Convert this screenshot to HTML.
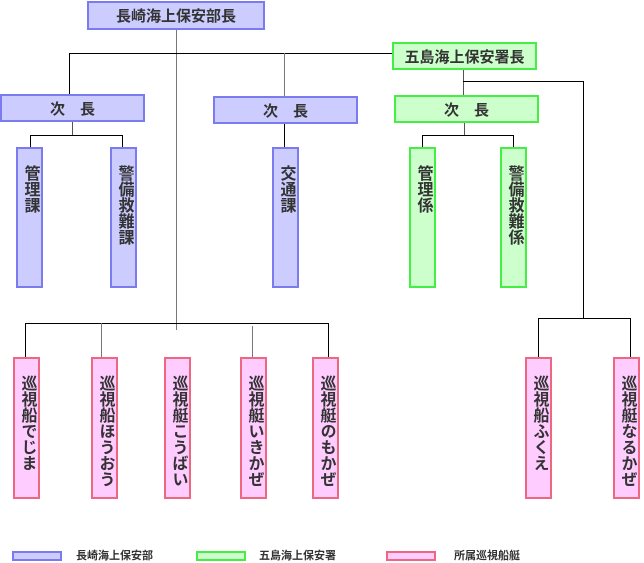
<!DOCTYPE html>
<html><head><meta charset="utf-8"><style>
body{margin:0;background:#fff;width:644px;height:562px;position:relative;overflow:hidden;font-family:"Liberation Sans","Noto Sans CJK JP",sans-serif;font-weight:bold;color:#333}
.b{position:absolute;box-sizing:border-box;display:flex;align-items:center;justify-content:center;font-size:15px}
.bl{background:#ccccff;border:2px solid #7b7bf0}
.gr{background:#ccffcc;border:2px solid #44ee44}
.pk{background:#ffccff;border:2px solid #ee6680}
.v{writing-mode:vertical-rl;justify-content:flex-start;align-items:center;padding-top:16px;font-size:16px;letter-spacing:0px}
.l{position:absolute;background:#000}
.lg{position:absolute;font-size:11px;top:547px}
</style></head><body>
<div class="l" style="left:176px;top:30px;width:1px;height:300px;background:#777"></div>
<div class="l" style="left:69px;top:53px;width:323px;height:1px"></div>
<div class="l" style="left:69px;top:53px;width:1px;height:41px"></div>
<div class="l" style="left:284px;top:53px;width:1px;height:43px;background:#777"></div>
<div class="l" style="left:463px;top:70px;width:1px;height:25px;background:#555"></div>
<div class="l" style="left:463px;top:81px;width:121px;height:1px"></div>
<div class="l" style="left:583px;top:81px;width:1px;height:237px"></div>
<div class="l" style="left:72px;top:122px;width:1px;height:13px;background:#555"></div>
<div class="l" style="left:30px;top:135px;width:93px;height:1px"></div>
<div class="l" style="left:30px;top:135px;width:1px;height:12px"></div>
<div class="l" style="left:122px;top:135px;width:1px;height:12px"></div>
<div class="l" style="left:284px;top:124px;width:1px;height:23px"></div>
<div class="l" style="left:464px;top:123px;width:1px;height:12px;background:#555"></div>
<div class="l" style="left:422px;top:135px;width:92px;height:1px"></div>
<div class="l" style="left:422px;top:135px;width:1px;height:12px"></div>
<div class="l" style="left:513px;top:135px;width:1px;height:12px"></div>
<div class="l" style="left:25px;top:323px;width:304px;height:1px"></div>
<div class="l" style="left:25px;top:323px;width:1px;height:34px"></div>
<div class="l" style="left:101px;top:323px;width:1px;height:34px;background:#777"></div>
<div class="l" style="left:252px;top:326px;width:1px;height:31px;background:#777"></div>
<div class="l" style="left:328px;top:323px;width:1px;height:34px"></div>
<div class="l" style="left:538px;top:318px;width:93px;height:1px"></div>
<div class="l" style="left:538px;top:318px;width:1px;height:39px"></div>
<div class="l" style="left:630px;top:318px;width:1px;height:39px"></div>
<div class="b bl" style="left:87px;top:1px;width:178px;height:29px">長崎海上保安部長</div>
<div class="b gr" style="left:392px;top:42px;width:145px;height:28px">五島海上保安署長</div>
<div class="b bl" style="left:0;top:94px;width:145px;height:28px">次　長</div>
<div class="b bl" style="left:213px;top:96px;width:145px;height:28px">次　長</div>
<div class="b gr" style="left:394px;top:95px;width:145px;height:28px">次　長</div>
<div class="b bl v" style="left:16px;top:147px;width:27px;height:141px">管理課</div>
<div class="b bl v" style="left:110px;top:147px;width:27px;height:141px">警備救難課</div>
<div class="b bl v" style="left:272px;top:147px;width:27px;height:141px">交通課</div>
<div class="b gr v" style="left:409px;top:147px;width:27px;height:141px">管理係</div>
<div class="b gr v" style="left:500px;top:147px;width:27px;height:141px">警備救難係</div>
<div class="b pk v" style="left:13px;top:357px;width:27px;height:142px">巡視船でじま</div>
<div class="b pk v" style="left:91px;top:357px;width:27px;height:142px">巡視船ほうおう</div>
<div class="b pk v" style="left:164px;top:357px;width:27px;height:142px">巡視艇こうばい</div>
<div class="b pk v" style="left:240px;top:357px;width:27px;height:142px">巡視艇いきかぜ</div>
<div class="b pk v" style="left:312px;top:357px;width:27px;height:142px">巡視艇のもかぜ</div>
<div class="b pk v" style="left:525px;top:357px;width:27px;height:142px">巡視船ふくえ</div>
<div class="b pk v" style="left:613px;top:357px;width:27px;height:142px">巡視艇なるかぜ</div>
<div class="b bl" style="left:12px;top:551px;width:50px;height:10px"></div>
<div class="lg" style="left:76px">長崎海上保安部</div>
<div class="b gr" style="left:196px;top:551px;width:50px;height:10px"></div>
<div class="lg" style="left:259px">五島海上保安署</div>
<div class="b pk" style="left:386px;top:551px;width:50px;height:10px"></div>
<div class="lg" style="left:454px">所属巡視船艇</div>
</body></html>
